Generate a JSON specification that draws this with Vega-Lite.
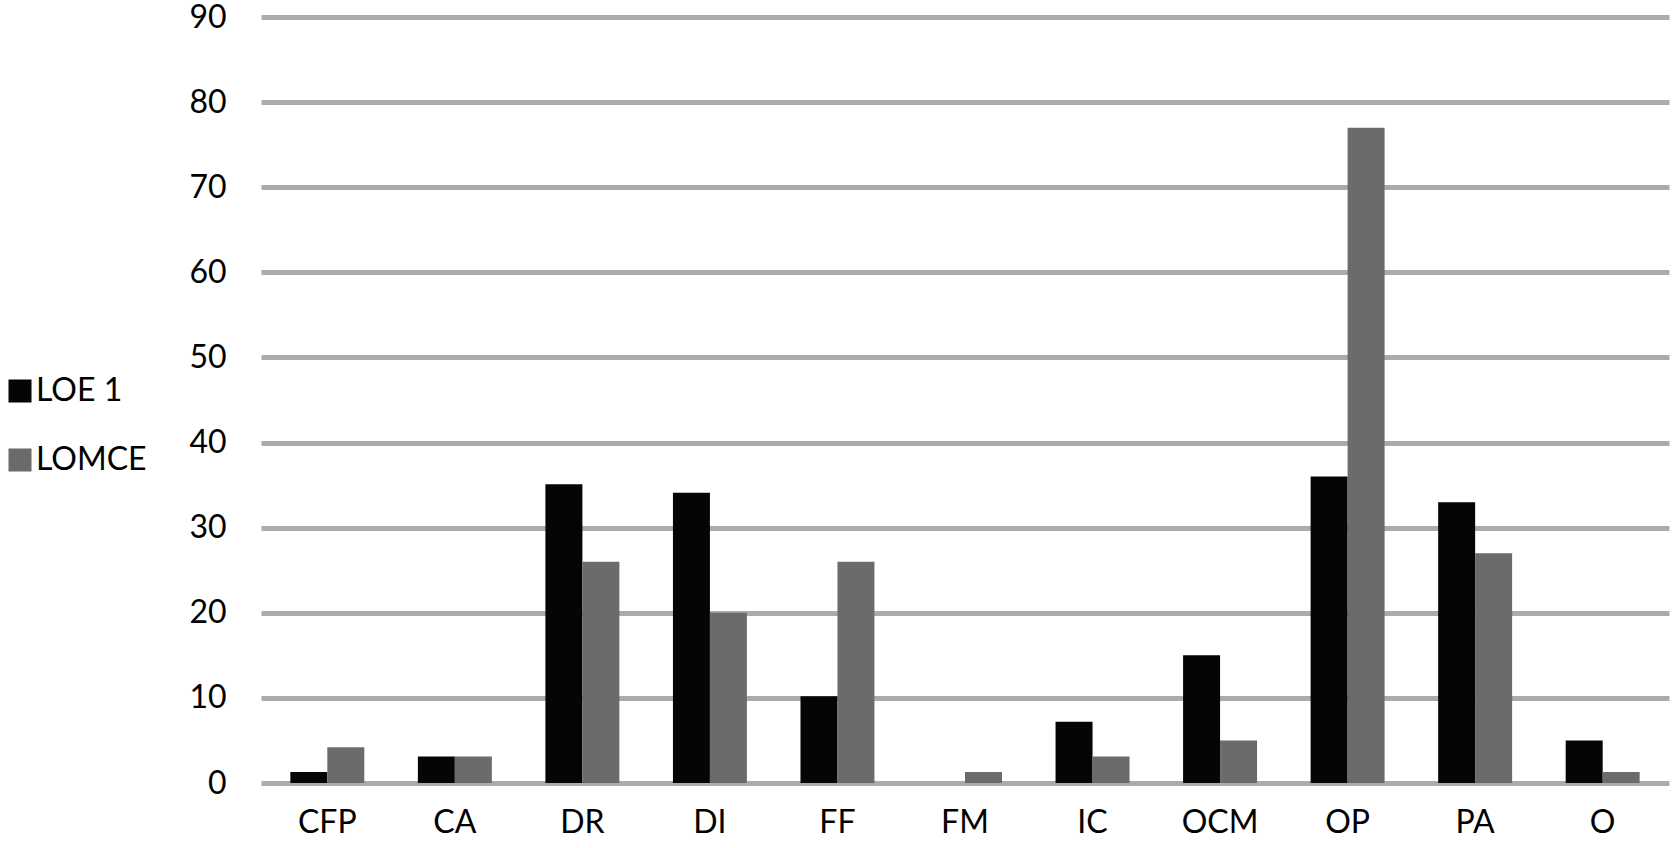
{
  "$schema": "https://vega.github.io/schema/vega-lite/v6.json",
  "width": 1408,
  "height": 766,
  "autosize": {"type": "none"},
  "padding": {"left": 261, "top": 17, "right": 3, "bottom": 65},
  "background": "white",
  "config": {
    "view": {"stroke": null},
    "font": "Lato",
    "axis": {"labelFont": "Lato", "labelColor": "#000000"},
    "legend": {"labelFont": "Lato", "labelColor": "#000000"}
  },
  "data": {
    "values": [
      {"cat": "CFP", "series": "LOE 1", "value": 1.3},
      {"cat": "CFP", "series": "LOMCE", "value": 4.2},
      {"cat": "CA", "series": "LOE 1", "value": 3.1},
      {"cat": "CA", "series": "LOMCE", "value": 3.1},
      {"cat": "DR", "series": "LOE 1", "value": 35.1},
      {"cat": "DR", "series": "LOMCE", "value": 26},
      {"cat": "DI", "series": "LOE 1", "value": 34.1},
      {"cat": "DI", "series": "LOMCE", "value": 20},
      {"cat": "FF", "series": "LOE 1", "value": 10.2},
      {"cat": "FF", "series": "LOMCE", "value": 26},
      {"cat": "FM", "series": "LOE 1", "value": 0},
      {"cat": "FM", "series": "LOMCE", "value": 1.3},
      {"cat": "IC", "series": "LOE 1", "value": 7.2},
      {"cat": "IC", "series": "LOMCE", "value": 3.1},
      {"cat": "OCM", "series": "LOE 1", "value": 15},
      {"cat": "OCM", "series": "LOMCE", "value": 5},
      {"cat": "OP", "series": "LOE 1", "value": 36},
      {"cat": "OP", "series": "LOMCE", "value": 77},
      {"cat": "PA", "series": "LOE 1", "value": 33},
      {"cat": "PA", "series": "LOMCE", "value": 27},
      {"cat": "O", "series": "LOE 1", "value": 5},
      {"cat": "O", "series": "LOMCE", "value": 1.3}
    ]
  },
  "mark": {"type": "bar"},
  "encoding": {
    "x": {
      "field": "cat",
      "type": "nominal",
      "sort": ["CFP", "CA", "DR", "DI", "FF", "FM", "IC", "OCM", "OP", "PA", "O"],
      "scale": {"paddingInner": 0.42, "paddingOuter": 0.23},
      "axis": {
        "title": null,
        "labelAngle": 0,
        "labelFontSize": 32,
        "labelPadding": 24,
        "domain": false,
        "ticks": false,
        "grid": false
      }
    },
    "xOffset": {"field": "series", "type": "nominal", "sort": ["LOE 1", "LOMCE"]},
    "y": {
      "field": "value",
      "type": "quantitative",
      "scale": {"domain": [0, 90], "nice": false},
      "axis": {
        "title": null,
        "values": [0, 10, 20, 30, 40, 50, 60, 70, 80, 90],
        "labelFontSize": 32,
        "labelPadding": 35,
        "domain": false,
        "ticks": false,
        "grid": true,
        "gridColor": "#ababab",
        "gridWidth": 5,
        "gridOpacity": 1,
        "zindex": 0
      }
    },
    "color": {
      "field": "series",
      "type": "nominal",
      "sort": ["LOE 1", "LOMCE"],
      "scale": {"domain": ["LOE 1", "LOMCE"], "range": ["#050505", "#6b6b6b"]},
      "legend": {
        "title": null,
        "orient": "none",
        "legendX": -257,
        "legendY": 358,
        "symbolType": "square",
        "symbolSize": 529,
        "symbolStrokeWidth": 0,
        "symbolOpacity": 1,
        "labelFontSize": 32,
        "labelOffset": 0,
        "rowPadding": 37
      }
    }
  }
}
